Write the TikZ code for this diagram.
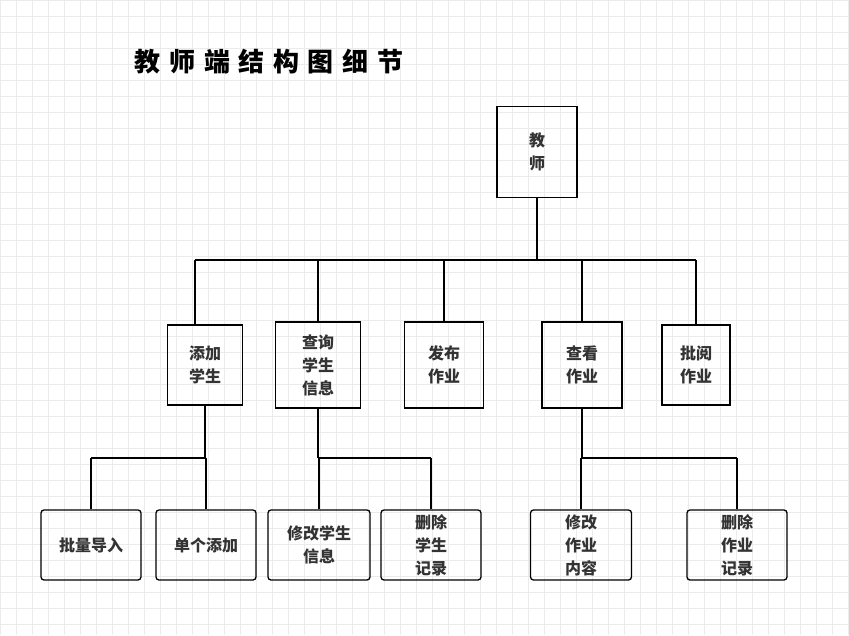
\documentclass[tikz,border=0pt]{standalone}
\usepackage{fontspec}
\setmainfont{Noto Sans CJK SC}
\begin{document}
\begin{tikzpicture}[x=1pt,y=-1pt,
 box/.style={draw,line width=1.3pt,text=black!80,font=\bfseries\fontsize{16}{23}\selectfont,align=center,inner sep=0pt},
 ln/.style={line width=1.3pt}]
\useasboundingbox (0,0) rectangle (849,635);
\fill[white] (0,0) rectangle (849,635);
\foreach \i in {0,16,...,848} \draw[black!8] (\i,0) -- (\i,635);
\foreach \i in {0,16,...,634} \draw[black!8] (0,\i) -- (849,\i);
\node[font=\bfseries\fontsize{26}{28}\selectfont] (title) at (269,62) {\addfontfeature{LetterSpace=33}教师端结构图细节};
\node[box,minimum width=80,minimum height=91] (t) at (537,152) {教\\师};
\node[box,minimum width=75,minimum height=80] (a) at (205,365) {添加\\学生};
\node[box,minimum width=85,minimum height=86] (b) at (318,365) {查询\\学生\\信息};
\node[box,minimum width=79,minimum height=86] (c) at (444,365) {发布\\作业};
\node[box,minimum width=80,minimum height=86] (d) at (582,365) {查看\\作业};
\node[box,minimum width=68,minimum height=80] (e) at (696,365) {批阅\\作业};
\tikzset{leaf/.style={box,rounded corners=3pt,minimum width=100,minimum height=70}}
\node[leaf] (a1) at (91,545) {批量导入};
\node[leaf] (a2) at (206,545) {单个添加};
\node[leaf,minimum width=102] (b1) at (319,545) {修改学生\\信息};
\node[leaf] (b2) at (431,545) {删除\\学生\\记录};
\node[leaf,minimum width=101] (d1) at (581,545) {修改\\作业\\内容};
\node[leaf] (d2) at (737,545) {删除\\作业\\记录};
\coordinate (bus) at (0,260);
\draw[ln] (t.south) -- (t.south |- bus);
\draw[ln] (195,260) -- (696,260);
\draw[ln] (195,260) -- (195,260 |- a.north);
\foreach \n in {b,c,d,e} \draw[ln] (\n.north |- bus) -- (\n.north);
\draw[ln] (a.south) -- (a.south |- 0,458);
\draw[ln] (a1.north |- 0,458) -- (a2.north |- 0,458);
\foreach \n in {a1,a2} \draw[ln] (\n.north |- 0,458) -- (\n.north);
\draw[ln] (b.south) -- (b.south |- 0,458);
\draw[ln] (b1.north |- 0,458) -- (b2.north |- 0,458);
\foreach \n in {b1,b2} \draw[ln] (\n.north |- 0,458) -- (\n.north);
\draw[ln] (d.south) -- (d.south |- 0,458);
\draw[ln] (d1.north |- 0,458) -- (d2.north |- 0,458);
\foreach \n in {d1,d2} \draw[ln] (\n.north |- 0,458) -- (\n.north);
\end{tikzpicture}
\end{document}
